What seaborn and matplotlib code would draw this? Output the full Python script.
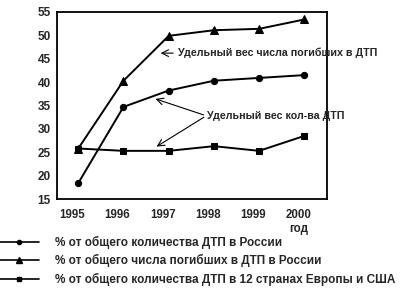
import matplotlib
matplotlib.use("Agg")
import matplotlib.pyplot as plt
from matplotlib.lines import Line2D
import seaborn as sns
import pandas as pd

years = [1995, 1996, 1997, 1998, 1999, 2000]
dtp_russia = [18.4, 34.7, 38.2, 40.3, 40.9, 41.5]
deaths_russia = [25.8, 40.3, 49.9, 51.1, 51.4, 53.4]
dtp_europe_usa = [25.8, 25.3, 25.3, 26.3, 25.3, 28.5]
labels = ["% от общего количества ДТП в России",
          "% от общего числа погибших в ДТП в России",
          "% от общего количества ДТП в 12 странах Европы и США"]
y_ticks = [15, 20, 25, 30, 35, 40, 45, 50, 55]

sns.set_theme(style="white")
plt.rcParams['font.family'] = ['Liberation Sans', 'DejaVu Sans']
plt.rcParams['font.weight'] = 'bold'

fig = plt.figure(figsize=(4.02, 2.89), dpi=100)
ax = fig.add_axes([0.1418, 0.3114, 0.6716, 0.6471])

series = [(dtp_russia, 'o', 4.5), (deaths_russia, '^', 5.5), (dtp_europe_usa, 's', 4.5)]
for vals, mk, ms in series:
    df = pd.DataFrame({"year": years, "val": vals})
    sns.lineplot(data=df, x="year", y="val", ax=ax, color="black", linewidth=1.4,
                 marker=mk, markersize=ms, markeredgecolor="black", markerfacecolor="black")

ax.set_xlim(1994.53, 2000.5)
ax.set_ylim(15, 55)
ax.set_yticks(y_ticks)
ax.set_yticklabels([str(v) for v in y_ticks], fontsize=8.5, fontweight='bold')
ax.set_xticks([y - 0.13 for y in years])
ax.set_xticklabels([str(y) for y in years], fontsize=8.3, fontweight='bold')
ax.set_xticks([y + 0.5 for y in years], minor=True)
ax.tick_params(axis='x', which='major', length=0, pad=7)
ax.tick_params(axis='x', which='minor', length=5, width=1, direction='inout', color='black')
ax.tick_params(axis='y', which='major', length=5, width=1, direction='inout', color='black', pad=2)
ax.set_xlabel("")
ax.set_ylabel("")
for s in ax.spines.values():
    s.set_color("black")
    s.set_linewidth(1.3)

ax.text(1999.87, 8.6, "год", ha='center', va='center', fontsize=8.3, fontweight='bold')

ax.annotate("", xy=(1996.76, 46.2), xytext=(1997.16, 46.2),
            arrowprops=dict(arrowstyle="->", color="black", lw=0.8))
ax.text(1997.21, 46.2, "Удельный вес числа погибших в ДТП", ha='left', va='center',
        fontsize=7.7, fontweight='bold')
ax.text(1997.85, 32.8, "Удельный вес кол-ва ДТП", ha='left', va='center',
        fontsize=7.7, fontweight='bold')
ax.annotate("", xy=(1996.65, 36.6), xytext=(1997.83, 32.8),
            arrowprops=dict(arrowstyle="->", color="black", lw=0.8))
ax.annotate("", xy=(1996.68, 25.9), xytext=(1997.83, 32.8),
            arrowprops=dict(arrowstyle="->", color="black", lw=0.8))

handles = [Line2D([0], [0], color='black', lw=1.2, marker=mk, markersize=ms - 1.5)
           for _, mk, ms in series]
leg = fig.legend(handles, labels, loc='upper left', bbox_to_anchor=(0.0, 0.183),
                 frameon=False, handlelength=3.3, handletextpad=1.4, labelspacing=0.45,
                 prop={'size': 8.5, 'weight': 'bold'}, borderaxespad=0, borderpad=0)

fig.savefig("out.png", dpi=100)
